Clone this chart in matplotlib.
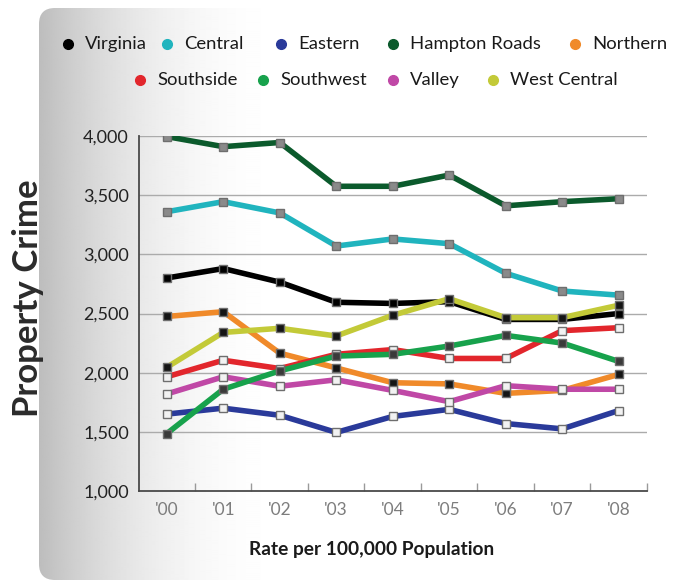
import numpy as np
import matplotlib
matplotlib.use("Agg")
import matplotlib.pyplot as plt
from matplotlib.patches import FancyBboxPatch
from matplotlib.lines import Line2D

plt.rcParams["font.family"] = ["Lato", "DejaVu Sans"]

years = ["'00", "'01", "'02", "'03", "'04", "'05", "'06", "'07", "'08"]

virginia      = [2800, 2880, 2765, 2595, 2585, 2600, 2450, 2450, 2500]
central       = [3360, 3445, 3350, 3070, 3130, 3090, 2840, 2690, 2655]
eastern       = [1650, 1700, 1640, 1495, 1630, 1690, 1570, 1525, 1680]
hampton_roads = [3995, 3910, 3945, 3575, 3575, 3670, 3410, 3445, 3470]
northern      = [2475, 2515, 2165, 2040, 1915, 1905, 1825, 1850, 1985]
southside     = [1965, 2105, 2035, 2155, 2195, 2120, 2120, 2355, 2380]
southwest     = [1485, 1860, 2015, 2140, 2155, 2225, 2315, 2250, 2095]
valley        = [1820, 1965, 1885, 1940, 1850, 1755, 1890, 1860, 1860]
west_central  = [2045, 2340, 2375, 2310, 2485, 2625, 2465, 2465, 2570]

# name, values, line colour, marker face
series = [
    ("Hampton Roads", hampton_roads, "#0b5a2c", "#8a8a8a"),
    ("Central", central, "#20b4be", "#8a8a8a"),
    ("Northern", northern, "#f08a2a", "#151515"),
    ("Virginia", virginia, "#000000", "#000000"),
    ("West Central", west_central, "#c3ca38", "#151515"),
    ("Eastern", eastern, "#2a3a9a", "#f2f2f2"),
    ("Valley", valley, "#c048a6", "#f2f2f2"),
    ("Southside", southside, "#e2262c", "#f2f2f2"),
    ("Southwest", southwest, "#17a24c", "#3a3a3a"),
]
colors = {name: c for name, _, c, _ in series}

W, H = 673, 584
fig = plt.figure(figsize=(W / 100, H / 100), dpi=100)
fig.patch.set_facecolor("white")

# Rounded grey-to-white panel behind everything
bg = fig.add_axes([0, 0, 1, 1], zorder=-10)
bg.set_xlim(0, W)
bg.set_ylim(H, 0)
bg.axis("off")
xs = np.linspace(0, W, W)
t = np.clip((xs - 39) / 260.0, 0, 1)
shade = 0.74 + (1.0 - 0.74) * (1 - (1 - t) ** 2.2)
grad = np.tile(shade, (10, 1))
img = bg.imshow(grad, cmap="gray", vmin=0, vmax=1, extent=[0, W, H, 0],
                aspect="auto", interpolation="bilinear")
panel = FancyBboxPatch((39, 8), W + 40, 572, boxstyle="round,pad=0,rounding_size=16",
                       transform=bg.transData, facecolor="none", edgecolor="none")
bg.add_patch(panel)
img.set_clip_path(panel)

# Main plot area
left, right = 138.5 / W, 647 / W
bottom, top = (H - 491) / H, (H - 136) / H
ax = fig.add_axes([left, bottom, right - left, top - bottom])
ax.set_facecolor("none")

x = np.arange(len(years))
for name, vals, col, mface in series:
    ax.plot(x, vals, color=col, lw=4.0, solid_joinstyle="miter", zorder=3)
    ax.plot(x, vals, ls="none", marker="s", ms=5.2, mfc=mface, mec="#6e6e6e",
            mew=1.0, zorder=4)

ax.set_xlim(-0.5, 8.5)
ax.set_ylim(1000, 4000)
ax.set_yticks([1000, 1500, 2000, 2500, 3000, 3500, 4000])
ax.set_yticklabels(["1,000", "1,500", "2,000", "2,500", "3,000", "3,500", "4,000"],
                   fontsize=13, color="#222222")
for v in [1500, 2000, 2500, 3000, 3500, 4000]:
    ax.axhline(v, color="#ababab", lw=1.0, zorder=1)

ax.set_xticks(x)
ax.set_xticklabels(years, fontsize=12.5, color="#7d7d7d")
ax.set_xticks(np.arange(0.5, 9.0, 1.0), minor=True)
ax.tick_params(axis="x", which="major", length=0, pad=8)
ax.tick_params(axis="x", which="minor", direction="in", length=6, color="#9a9a9a", width=1)
ax.tick_params(axis="y", length=0, pad=7)

for s in ["top", "right"]:
    ax.spines[s].set_visible(False)
for s in ["left", "bottom"]:
    ax.spines[s].set_color("#4a4a4a")
    ax.spines[s].set_linewidth(1.3)

fig.text(371.5 / W, 1 - 549 / H, "Rate per 100,000 Population", ha="center", va="center",
         fontsize=13.8, fontweight="bold", color="#1a1a1a")
fig.text(28 / W, 1 - 298 / H, "Property Crime", rotation=90, ha="center", va="center",
         fontsize=25, fontweight="bold", color="#2b2b2b")

# Legend rows
row1 = [("Virginia", 68), ("Central", 167), ("Eastern", 281), ("Hampton Roads", 393),
        ("Northern", 575)]
row2 = [("Southside", 140), ("Southwest", 263), ("Valley", 393), ("West Central", 493)]
for row, yy in [(row1, 44), (row2, 80)]:
    for name, xx in row:
        fig.add_artist(Line2D([xx / W], [1 - yy / H], transform=fig.transFigure,
                              marker="o", ms=7, color=colors[name], ls="none"))
        fig.text((xx + 17) / W, 1 - yy / H, name, ha="left", va="center",
                 fontsize=13.3, color="#1a1a1a")

fig.savefig("out.png", dpi=100)
